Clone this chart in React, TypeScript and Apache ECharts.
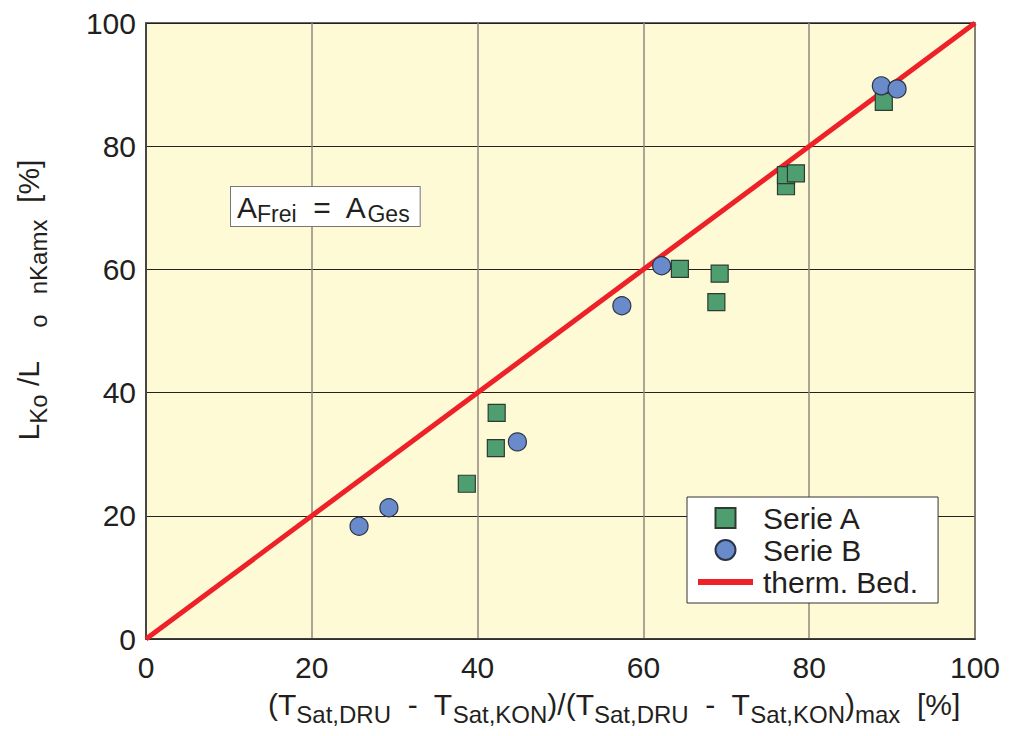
import React, { useEffect, useRef } from "react";
import * as echarts from "echarts";

const xTicks = [0, 20, 40, 60, 80, 100];
const yTicks = [0, 20, 40, 60, 80, 100];

const serieA: [number, number][] = [
  [38.7, 25.2],
  [42.2, 31.0],
  [42.3, 36.7],
  [64.4, 60.1],
  [69.2, 59.3],
  [68.8, 54.7],
  [77.2, 73.5],
  [77.2, 75.3],
  [78.4, 75.6],
  [89.0, 87.2],
];

const serieB: [number, number][] = [
  [25.7, 18.3],
  [29.3, 21.3],
  [44.8, 32.0],
  [57.4, 54.1],
  [62.2, 60.6],
  [88.7, 89.8],
  [90.6, 89.3],
];

const thermLine: [number, number][] = [
  [0, 0],
  [100, 100],
];

const seriesNames = ["Serie A", "Serie B", "therm. Bed."];

const FONT = '"Liberation Sans", Arial, Helvetica, sans-serif';
const TXT = "#231f20";
const GREEN = "#4f9e6f";
const BLUE = "#6a8bcb";
const RED = "#ee2129";

export default function App() {
  const ref = useRef<HTMLDivElement>(null);

  useEffect(() => {
    if (!ref.current) return;
    const chart = echarts.init(ref.current, undefined, { renderer: "svg" });
    const subRich = {
      m: { fontSize: 30, fontFamily: FONT, fill: TXT, color: TXT, lineHeight: 36 },
      s: { fontSize: 24, fontFamily: FONT, fill: TXT, color: TXT, lineHeight: 22, padding: [20, 0, 0, 0] },
    };
    chart.setOption({
      animation: false,
      backgroundColor: "#ffffff",
      textStyle: { fontFamily: FONT },
      grid: {
        left: 146,
        right: 37,
        top: 23,
        bottom: 97,
        show: true,
        backgroundColor: "#fffad6",
        borderColor: "#333333",
        borderWidth: 1.5,
      },
      xAxis: {
        type: "value",
        min: xTicks[0],
        max: xTicks[xTicks.length - 1],
        interval: 20,
        axisLine: { show: true, lineStyle: { color: "#333333", width: 1.5 } },
        axisTick: { show: false },
        splitLine: { show: true, lineStyle: { color: "#8f8a7c", width: 1.5 } },
        axisLabel: { fontSize: 30, color: TXT, fontFamily: FONT, margin: 13 },
      },
      yAxis: {
        type: "value",
        min: yTicks[0],
        max: yTicks[yTicks.length - 1],
        interval: 20,
        axisLine: { show: true, lineStyle: { color: "#333333", width: 1.5 } },
        axisTick: { show: false },
        splitLine: { show: true, lineStyle: { color: "#222222", width: 1 } },
        axisLabel: { fontSize: 30, color: TXT, fontFamily: FONT, margin: 10 },
      },
      legend: {
        orient: "vertical",
        left: 687,
        top: 497,
        backgroundColor: "#ffffff",
        borderColor: "#333333",
        borderWidth: 1,
        borderRadius: 0,
        padding: [6, 20, 6, 11],
        itemWidth: 55,
        itemHeight: 20,
        itemGap: 2,
        symbolKeepAspect: true,
        textStyle: { fontSize: 30, color: TXT, fontFamily: FONT, lineHeight: 30, padding: [0, 0, 0, 5] },
        data: [
          { name: seriesNames[0], icon: "path://M0,0L20,0L20,20L0,20Z" },
          { name: seriesNames[1], icon: "path://M10,0A10,10 0 1,1 10,20A10,10 0 1,1 10,0Z" },
          {
            name: seriesNames[2],
            icon: "path://M0,0L55,0L55,6L0,6Z",
            itemStyle: { color: RED, borderWidth: 0 },
          },
        ],
      },
      graphic: [
        {
          type: "text",
          left: 230,
          top: 186,
          z: 100,
          style: {
            text: "{m|A}{s|Frei}{m|  =  A}{s|Ges}",
            rich: {
              m: { fontSize: 30, fontFamily: FONT, fill: TXT, lineHeight: 30 },
              s: { fontSize: 23, fontFamily: FONT, fill: TXT, lineHeight: 20, padding: [14, 0, 0, 0] },
            },
            backgroundColor: "#ffffff",
            borderColor: "#777777",
            borderWidth: 1,
            padding: [5, 10, 4, 6],
          },
        },
        {
          type: "text",
          left: 268,
          top: 682,
          style: {
            text: "{m|(T}{s|Sat,DRU}{m|  -  T}{s|Sat,KON}{m|)/(T}{s|Sat,DRU}{m|  -  T}{s|Sat,KON}{m|)}{s|max}{m|  [%]}",
            rich: subRich,
          },
        },
        {
          type: "text",
          x: 28,
          y: 300,
          rotation: Math.PI / 2,
          style: {
            text: "{m|L}{s|Ko}{m| /L}{s|     o   nKamx}{m|  [%]}",
            rich: subRich,
            align: "center",
            verticalAlign: "middle",
          },
        },
      ],
      series: [
        {
          name: seriesNames[0],
          type: "scatter",
          symbol: "rect",
          symbolSize: 17,
          z: 3,
          data: serieA,
          itemStyle: { color: GREEN, borderColor: "#2e3b33", borderWidth: 1.2, opacity: 1 },
        },
        {
          name: seriesNames[1],
          type: "scatter",
          symbol: "circle",
          symbolSize: 18,
          z: 3,
          data: serieB,
          itemStyle: { color: BLUE, borderColor: "#2c3345", borderWidth: 1.2, opacity: 1 },
        },
        {
          name: seriesNames[2],
          type: "line",
          symbol: "none",
          z: 2,
          data: thermLine,
          lineStyle: { color: RED, width: 5 },
          itemStyle: { color: RED },
        },
      ],
    });
    return () => chart.dispose();
  }, []);

  return (
    <div
      ref={ref}
      style={{ position: "fixed", left: 0, top: 0, width: 1012, height: 736 }}
    />
  );
}
